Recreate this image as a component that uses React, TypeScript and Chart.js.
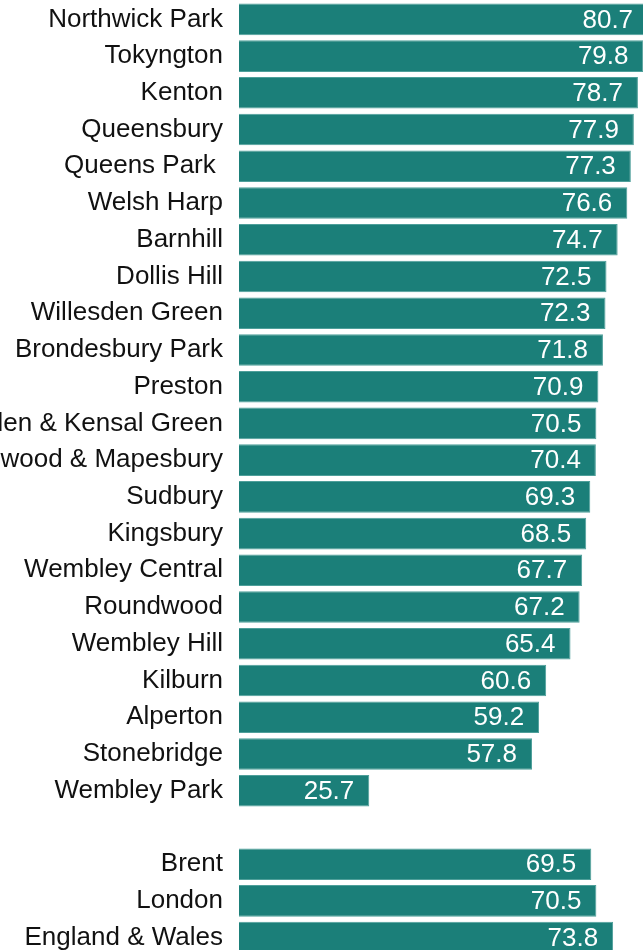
import React, { useEffect, useRef } from "react";
import { Chart, registerables } from "chart.js";

Chart.register(...registerables);

const categories: string[] = [
  "Northwick Park",
  "Tokyngton",
  "Kenton",
  "Queensbury",
  "Queens Park ",
  "Welsh Harp",
  "Barnhill",
  "Dollis Hill",
  "Willesden Green",
  "Brondesbury Park",
  "Preston",
  "Harlesden & Kensal Green",
  "Cricklewood & Mapesbury",
  "Sudbury",
  "Kingsbury",
  "Wembley Central",
  "Roundwood",
  "Wembley Hill",
  "Kilburn",
  "Alperton",
  "Stonebridge",
  "Wembley Park",
  "",
  "Brent",
  "London",
  "England & Wales",
];

const values: (number | null)[] = [
  80.7, 79.8, 78.7, 77.9, 77.3, 76.6, 74.7, 72.5, 72.3, 71.8, 70.9, 70.5, 70.4,
  69.3, 68.5, 67.7, 67.2, 65.4, 60.6, 59.2, 57.8, 25.7, null, 69.5, 70.5, 73.8,
];

const FONT = '"Liberation Sans", Arial, sans-serif';

const valueLabels = {
  id: "valueLabels",
  afterDatasetsDraw(chart: any) {
    const ctx = chart.ctx;
    const meta = chart.getDatasetMeta(0);
    ctx.save();
    ctx.font = `26px ${FONT}`;
    ctx.fillStyle = "#ffffff";
    ctx.textAlign = "right";
    ctx.textBaseline = "middle";
    meta.data.forEach((bar: any, i: number) => {
      const v = values[i];
      if (v === null || v === undefined) return;
      ctx.fillText(v.toFixed(1), bar.x - 15, bar.y + 1);
    });
    ctx.restore();
  },
};

export default function App() {
  const ref = useRef<HTMLCanvasElement | null>(null);

  useEffect(() => {
    if (!ref.current) return;
    const chart = new Chart(ref.current, {
      type: "bar",
      data: {
        labels: categories,
        datasets: [
          {
            data: values,
            backgroundColor: "#1b7f79",
            borderColor: "#4e9f9a",
            borderWidth: 1,
            barPercentage: 0.86,
            categoryPercentage: 1,
          },
        ],
      },
      options: {
        indexAxis: "y",
        responsive: false,
        animation: false,
        layout: { padding: { top: 1, left: 0, right: 0, bottom: 0 } },
        plugins: {
          legend: { display: false },
          tooltip: { enabled: false },
        },
        scales: {
          x: {
            display: false,
            min: 0,
            max: 79.7,
          },
          y: {
            grid: { display: false, drawTicks: false },
            border: { display: false },
            ticks: {
              autoSkip: false,
              padding: 16,
              color: "#111111",
              font: { family: FONT, size: 26 },
            },
            afterFit(scale: any) {
              scale.width = 239;
              scale.paddingTop = 0;
              scale.paddingBottom = 0;
            },
          },
        },
      },
      plugins: [valueLabels],
    });
    return () => chart.destroy();
  }, []);

  return (
    <div
      style={{
        position: "fixed",
        left: 0,
        top: 0,
        width: 643,
        height: 950,
        overflow: "hidden",
        background: "#ffffff",
      }}
    >
      <canvas ref={ref} width={643} height={956} style={{ display: "block" }} />
    </div>
  );
}
